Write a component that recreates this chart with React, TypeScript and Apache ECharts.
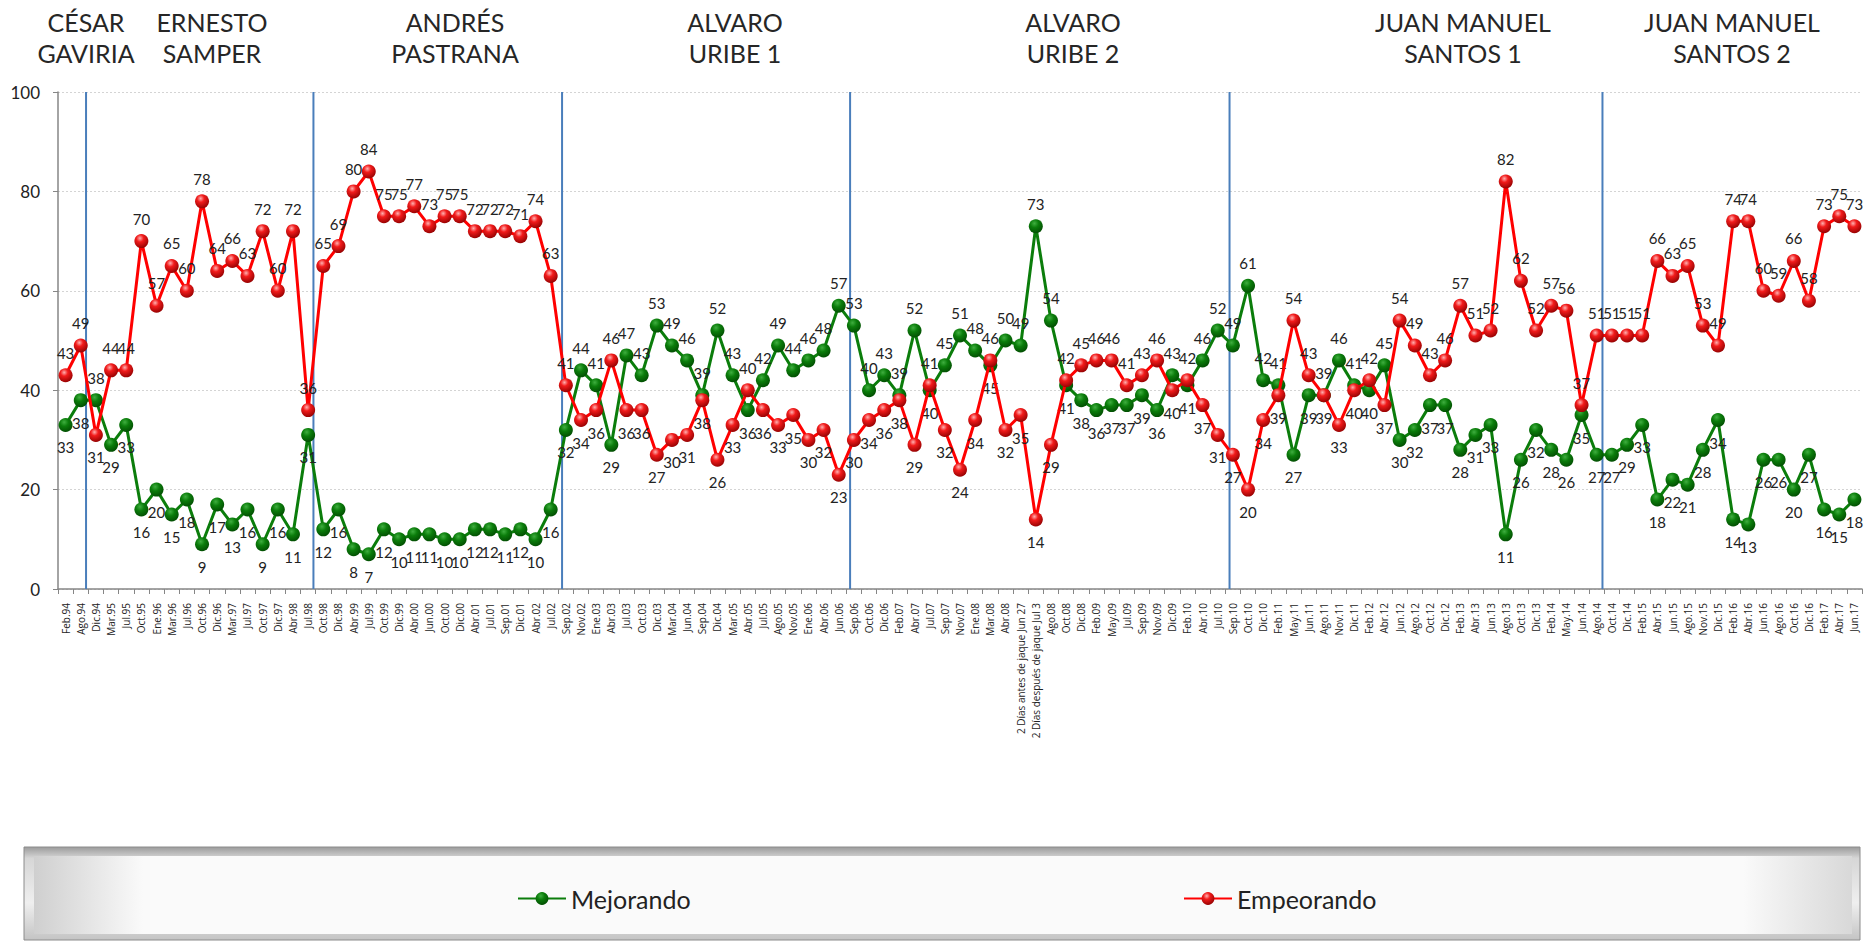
import React, { useEffect, useRef } from "react";
import * as echarts from "echarts";

const categories = [
  "Feb.94","Ago.94","Dic.94","Mar.95","Jul.95","Oct.95","Ene.96","Mar.96","Jul.96","Oct.96",
  "Dic.96","Mar.97","Jul.97","Oct.97","Dic.97","Abr.98","Jul.98","Oct.98","Dic.98","Abr.99",
  "Jul.99","Oct.99","Dic.99","Abr.00","Jun.00","Oct.00","Dic.00","Abr.01","Jul.01","Sep.01",
  "Dic.01","Abr.02","Jul.02","Sep.02","Nov.02","Ene.03","Abr.03","Jul.03","Oct.03","Dic.03",
  "Mar.04","Jun.04","Sep.04","Dic.04","Mar.05","Abr.05","Jul.05","Ago.05","Nov.05","Ene.06",
  "Abr.06","Jun.06","Sep.06","Oct.06","Dic.06","Feb.07","Abr.07","Jul.07","Sep.07","Nov.07",
  "Ene.08","Mar.08","Abr.08","2 Días antes de jaque Jun 27","2 Días después de jaque Jul 3","Ago.08","Oct.08","Dic.08","Feb.09","May.09",
  "Jul.09","Sep.09","Nov.09","Dic.09","Feb.10","Abr.10","Jul.10","Sep.10","Oct.10","Dic.10",
  "Feb.11","May.11","Jun.11","Ago.11","Nov.11","Dic.11","Feb.12","Abr.12","Jun.12","Ago.12",
  "Oct.12","Dic.12","Feb.13","Abr.13","Jun.13","Ago.13","Oct.13","Dic.13","Feb.14","May.14",
  "Jun.14","Ago.14","Oct.14","Dic.14","Feb.15","Abr.15","Jun.15","Ago.15","Nov.15","Dic.15",
  "Feb.16","Abr.16","Jun.16","Ago.16","Oct.16","Dic.16","Feb.17","Abr.17","Jun.17"
];

const mejorando = [
  33,38,38,29,33,16,20,15,18,9,
  17,13,16,9,16,11,31,12,16,8,
  7,12,10,11,11,10,10,12,12,11,
  12,10,16,32,44,41,29,47,43,53,
  49,46,39,52,43,36,42,49,44,46,
  48,57,53,40,43,39,52,40,45,51,
  48,45,50,49,73,54,41,38,36,37,
  37,39,36,43,41,46,52,49,61,42,
  41,27,39,39,46,41,40,45,30,32,
  37,37,28,31,33,11,26,32,28,26,
  35,27,27,29,33,18,22,21,28,34,
  14,13,26,26,20,27,16,15,18
];

const empeorando = [
  43,49,31,44,44,70,57,65,60,78,
  64,66,63,72,60,72,36,65,69,80,
  84,75,75,77,73,75,75,72,72,72,
  71,74,63,41,34,36,46,36,36,27,
  30,31,38,26,33,40,36,33,35,30,
  32,23,30,34,36,38,29,41,32,24,
  34,46,32,35,14,29,42,45,46,46,
  41,43,46,40,42,37,31,27,20,34,
  39,54,43,39,33,40,42,37,54,49,
  43,46,57,51,52,82,62,52,57,56,
  37,51,51,51,51,66,63,65,53,49,
  74,74,60,59,66,58,73,75,73
];

// presidential term changes, in category-index units (between two surveys)
const termBreaks = [1.35, 16.35, 32.75, 51.75, 76.78, 101.38];

const presidents = [
  "CÉSAR\nGAVIRIA",
  "ERNESTO\nSAMPER",
  "ANDRÉS\nPASTRANA",
  "ALVARO\nURIBE 1",
  "ALVARO\nURIBE 2",
  "JUAN MANUEL\nSANTOS 1",
  "JUAN MANUEL\nSANTOS 2",
];
const presidentLabelX = [86, 212, 455, 735, 1073, 1463, 1732];

const FONT = "Lato, 'Open Sans', sans-serif";

const redBall = {
  type: "radial", x: 0.4, y: 0.3, r: 0.75,
  colorStops: [
    { offset: 0, color: "#ffb0b0" },
    { offset: 0.35, color: "#f21b1b" },
    { offset: 1, color: "#8e0000" },
  ],
};
const greenBall = {
  type: "radial", x: 0.4, y: 0.3, r: 0.75,
  colorStops: [
    { offset: 0, color: "#3fae3f" },
    { offset: 0.4, color: "#0b7d0b" },
    { offset: 1, color: "#014a01" },
  ],
};

export default function App() {
  const ref = useRef<HTMLDivElement>(null);
  useEffect(() => {
    if (!ref.current) return;
    const chart = echarts.init(ref.current, null, { renderer: "svg" });

    const greenData = mejorando.map((v, i) => ({
      value: v,
      label: { position: v > empeorando[i] ? "top" : "bottom" },
    }));
    const redData = empeorando.map((v, i) => ({
      value: v,
      label: { position: v >= mejorando[i] ? "top" : "bottom" },
    }));

    const breakSeries = termBreaks.map((b, k) => ({
      type: "line",
      name: "term" + k,
      xAxisIndex: 1,
      yAxisIndex: 0,
      data: [[b, 0], [b, 100]],
      symbol: "none",
      silent: true,
      lineStyle: { color: "#4a7ebb", width: 2 },
      z: 1,
    }));

    const option: any = {
      animation: false,
      backgroundColor: "#ffffff",
      textStyle: { fontFamily: FONT },
      grid: { left: 58, right: 2, top: 92, bottom: 354, containLabel: false },
      xAxis: [
        {
          type: "category",
          data: categories,
          boundaryGap: true,
          axisLine: { onZero: false, lineStyle: { color: "#868686", width: 1.5 } },
          axisTick: { show: true, interval: 0, length: 5, lineStyle: { color: "#868686" } },
          axisLabel: {
            interval: 0, rotate: 90, fontSize: 10, color: "#222", margin: 14,
            fontFamily: "'Open Sans', sans-serif",
          },
          splitLine: { show: false },
        },
        {
          type: "value",
          min: -0.5,
          max: 118.5,
          show: false,
          axisLine: { onZero: false },
        },
      ],
      yAxis: {
        type: "value",
        min: 0,
        max: 100,
        interval: 20,
        axisLine: { show: true, onZero: false, lineStyle: { color: "#868686", width: 1.5 } },
        axisTick: { show: true, length: 5, lineStyle: { color: "#868686" } },
        axisLabel: { fontSize: 17, color: "#222", margin: 18 },
        splitLine: { lineStyle: { color: "#d4d4d4", type: [2, 2] } },
      },
      legend: [
        {
          data: ["Mejorando"], left: 512, top: 881,
          itemWidth: 48, itemHeight: 16, itemGap: 10,
          textStyle: { fontSize: 25, color: "#222", fontFamily: FONT },
          z: 10,
        },
        {
          data: ["Empeorando"], left: 1178, top: 881,
          itemWidth: 48, itemHeight: 16, itemGap: 10,
          textStyle: { fontSize: 25, color: "#222", fontFamily: FONT },
          z: 10,
        },
      ],
      graphic: [
        {
          type: "rect", z: 0, silent: true,
          shape: { x: 24, y: 847, width: 1836, height: 93 },
          style: {
            fill: {
              type: "linear", x: 0, y: 0, x2: 0, y2: 1,
              colorStops: [
                { offset: 0, color: "#9b9b9b" },
                { offset: 0.12, color: "#d6d6d6" },
                { offset: 0.6, color: "#efefef" },
                { offset: 1, color: "#c4c4c4" },
              ],
            },
            stroke: "#8c8c8c", lineWidth: 1,
          },
        },
        {
          type: "rect", z: 1, silent: true,
          shape: { x: 34, y: 856, width: 1818, height: 78 },
          style: {
            fill: {
              type: "linear", x: 0, y: 0, x2: 1, y2: 0,
              colorStops: [
                { offset: 0, color: "#cfcfcf" },
                { offset: 0.06, color: "#fafafa" },
                { offset: 0.94, color: "#fafafa" },
                { offset: 1, color: "#d8d8d8" },
              ],
            },
          },
        },
        ...presidents.map((p, i) => ({
          type: "text", z: 5, silent: true,
          x: presidentLabelX[i], y: 6,
          style: {
            text: p, fill: "#262626", font: `25px ${FONT}`,
            textAlign: "center", textVerticalAlign: "top", lineHeight: 31,
          },
        })),
      ],
      series: [
        ...breakSeries,
        {
          type: "line",
          name: "Mejorando",
          data: greenData,
          symbol: "circle",
          symbolSize: 14,
          lineStyle: { color: "#0b7d0b", width: 3 },
          itemStyle: { color: greenBall },
          label: { show: true, fontSize: 15, color: "#222", distance: 8 },
          emphasis: { disabled: true },
          z: 3,
        },
        {
          type: "line",
          name: "Empeorando",
          data: redData,
          symbol: "circle",
          symbolSize: 14,
          lineStyle: { color: "#ff0000", width: 3 },
          itemStyle: { color: redBall },
          label: { show: true, fontSize: 15, color: "#222", distance: 8 },
          emphasis: { disabled: true },
          z: 4,
        },
      ],
    };
    chart.setOption(option);
    return () => chart.dispose();
  }, []);
  return (
    <div
      ref={ref}
      style={{ position: "fixed", left: 0, top: 0, width: 1864, height: 943, background: "#fff" }}
    />
  );
}
